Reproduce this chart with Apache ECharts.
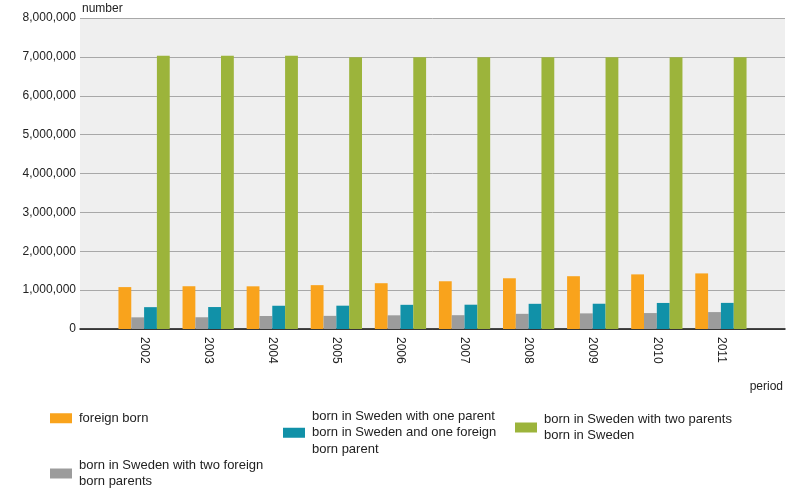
<!DOCTYPE html>
<html>
<head>
<meta charset="utf-8">
<script src="https://cdn.jsdelivr.net/npm/echarts@6/dist/echarts.min.js"></script>
<style>
html,body{margin:0;padding:0;background:#fff;}
#chart{width:792px;height:493px;}
</style>
</head>
<body>
<div id="chart"></div>
<script>
var years = ['2002','2003','2004','2005','2006','2007','2008','2009','2010','2011'];
var foreignBorn = [1078000, 1100000, 1098000, 1128000, 1178000, 1228000, 1305000, 1358000, 1405000, 1430000];
var twoForeignParents = [300000, 302000, 335000, 338000, 352000, 355000, 390000, 402000, 410000, 435000];
var oneForeignParent = [562000, 565000, 598000, 600000, 622000, 625000, 648000, 650000, 670000, 672000];
var twoSwedishParents = [7030000, 7030000, 7030000, 6990000, 6990000, 6990000, 6990000, 6990000, 6990000, 6990000];
var yTicks = [0, 1000000, 2000000, 3000000, 4000000, 5000000, 6000000, 7000000, 8000000];

var names = {
  fb: 'foreign born',
  one: 'born in Sweden with one parent\nborn in Sweden and one foreign\nborn parent',
  two: 'born in Sweden with two parents\nborn in Sweden',
  tf: 'born in Sweden with two foreign\nborn parents'
};
var colors = {fb: '#F9A31C', tf: '#9C9C9C', one: '#1191A8', two: '#9CB43B'};

function pad(arr) { return [null].concat(arr).concat([null]); }
var cats = [''].concat(years).concat(['']);

function fmt(v) { return String(v).replace(/\B(?=(\d{3})+(?!\d))/g, ','); }

var font = 'Liberation Sans, Arial, sans-serif';

function legend(name, left, top) {
  return {
    data: [name], left: left, top: top, padding: 0,
    itemWidth: 22, itemHeight: 10, itemGap: 0,
    icon: 'rect', selectedMode: false,
    textStyle: {fontFamily: font, fontSize: 13, color: '#222', lineHeight: 16.5, padding: [0, 0, 0, 2]}
  };
}

var chart = echarts.init(document.getElementById('chart'));
chart.setOption({
  animation: false,
  backgroundColor: '#ffffff',
  grid: {left: 80, right: 7, top: 18, bottom: 164, show: true, backgroundColor: '#efefef', borderWidth: 0, containLabel: false},
  legend: [
    legend(names.fb, 50, 410),
    legend(names.one, 283, 408),
    legend(names.two, 515, 411),
    legend(names.tf, 50, 457)
  ],
  xAxis: {
    type: 'category',
    data: cats,
    boundaryGap: false,
    axisLine: {lineStyle: {color: '#111', width: 1.5}},
    axisTick: {show: false},
    axisLabel: {rotate: -90, margin: 8, fontFamily: font, fontSize: 12, color: '#222', interval: 0},
    splitLine: {show: false},
    name: 'period',
    nameLocation: 'end',
    nameGap: -2,
    nameTextStyle: {fontFamily: font, fontSize: 12, color: '#222', align: 'right', verticalAlign: 'top', padding: [52, 0, 0, 0]}
  },
  yAxis: {
    type: 'value',
    min: yTicks[0],
    max: yTicks[yTicks.length - 1],
    interval: yTicks[1] - yTicks[0],
    axisLine: {show: false},
    axisTick: {show: false},
    axisLabel: {margin: 4, fontFamily: font, fontSize: 12, color: '#222', formatter: fmt},
    splitLine: {lineStyle: {color: '#a8a8a8', width: 1}},
    name: 'number',
    nameLocation: 'end',
    nameGap: 3,
    nameTextStyle: {fontFamily: font, fontSize: 12, color: '#222', align: 'left', padding: [0, 0, 0, 2]}
  },
  series: [
    {name: names.fb, type: 'bar', data: pad(foreignBorn), itemStyle: {color: colors.fb}, barGap: '0%', barCategoryGap: '20%'},
    {name: names.tf, type: 'bar', data: pad(twoForeignParents), itemStyle: {color: colors.tf}},
    {name: names.one, type: 'bar', data: pad(oneForeignParent), itemStyle: {color: colors.one}},
    {name: names.two, type: 'bar', data: pad(twoSwedishParents), itemStyle: {color: colors.two}}
  ]
});
</script>
</body>
</html>
